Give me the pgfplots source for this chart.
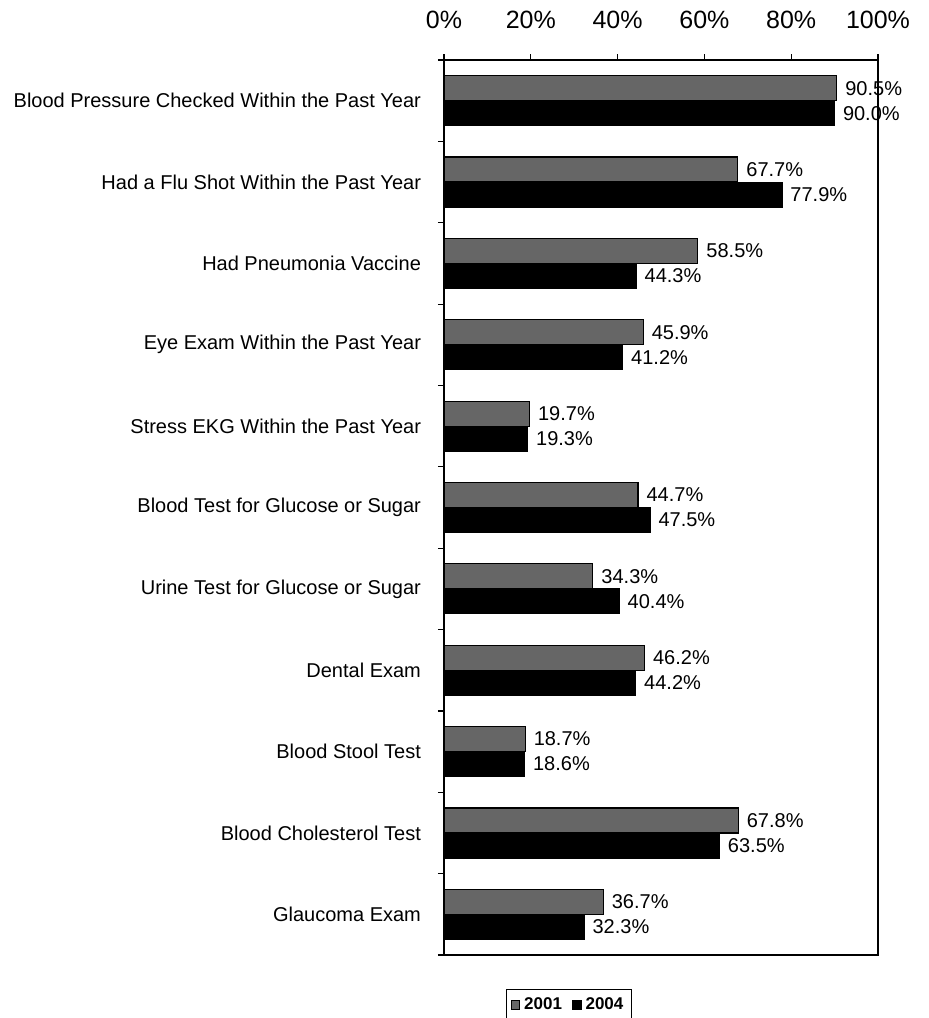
\documentclass[border=0pt]{standalone}
\usepackage{pgfplots}
\pgfplotsset{compat=1.18}
\usepackage{fontspec}
\setmainfont{Liberation Sans}
\begin{document}
\begin{tikzpicture}
\path[use as bounding box] (0,0) rectangle (464.5pt,-509pt);
\begin{axis}[
  at={(222pt,-477.5pt)}, anchor=south west,
  scale only axis, width=217pt, height=447.5pt,
  xbar, bar width=12.5pt,
  xmin=0, xmax=100, ymin=-0.5, ymax=10.5,
  /pgf/number format/assume math mode=true,
  xtick={0,20,...,100},
  xticklabels={0\%,20\%,40\%,60\%,80\%,100\%},
  xtick pos=right, xticklabel pos=right,
  xticklabel style={font=\fontsize{12.5}{14}\selectfont, yshift=9pt},
  x tick style={black, line width=0.6pt},
  tick align=outside, major tick length=3pt, minor tick length=3pt,
  ytick={0,...,10},
  yticklabels={Glaucoma Exam, Blood Cholesterol Test, Blood Stool Test, Dental Exam,
    Urine Test for Glucose or Sugar, Blood Test for Glucose or Sugar,
    Stress EKG Within the Past Year, Eye Exam Within the Past Year,
    Had Pneumonia Vaccine, Had a Flu Shot Within the Past Year,
    Blood Pressure Checked Within the Past Year},
  ytick pos=left,
  yticklabel style={font=\fontsize{10}{12}\selectfont, xshift=-5pt},
  major y tick style={draw=none},
  minor ytick={-0.5,0.5,1.5,2.5,3.5,4.5,5.5,6.5,7.5,8.5,9.5,10.5},
  minor y tick style={draw=black, line width=0.6pt},
  axis line style={line width=0.8pt},
  clip=false,
  point meta=x,
  nodes near coords={\pgfmathprintnumber[fixed,fixed zerofill,precision=1]{\pgfplotspointmeta}\%},
  nodes near coords style={font=\fontsize{10}{12}\selectfont, anchor=west, inner sep=4pt},
  legend columns=2,
  legend style={at={(0.288,-0.038)}, anchor=north, draw=black, line width=0.6pt,
    font=\fontsize{8.5}{10}\bfseries, inner sep=2pt,
    /tikz/every even column/.append style={column sep=3pt}},
  legend image code/.code={\draw[#1, line width=0.4pt] (0pt,-2.2pt) rectangle (4.4pt,2.2pt);},
]
\addplot[draw=black, line width=0.6pt, fill=black!60, bar shift=6.25pt] coordinates {
  (36.7,0) (67.8,1) (18.7,2) (46.2,3) (34.3,4) (44.7,5) (19.7,6) (45.9,7) (58.5,8) (67.7,9) (90.5,10)};
\addplot[draw=black, fill=black, bar shift=-6.25pt] coordinates {
  (32.3,0) (63.5,1) (18.6,2) (44.2,3) (40.4,4) (47.5,5) (19.3,6) (41.2,7) (44.3,8) (77.9,9) (90.0,10)};
\legend{2001,2004}
\end{axis}
\end{tikzpicture}
\end{document}
